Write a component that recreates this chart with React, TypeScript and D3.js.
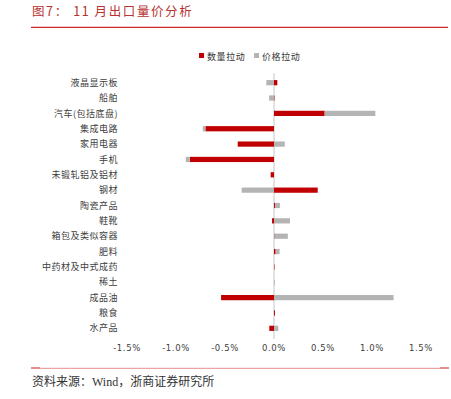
import * as d3 from 'd3';

const categories = ['液晶显示板', '船舶', '汽车(包括底盘)', '集成电路', '家用电器', '手机', '未锻轧铝及铝材', '钢材', '陶瓷产品', '鞋靴', '箱包及类似容器', '肥料', '中药材及中式成药', '稀土', '成品油', '粮食', '水产品'];
// percent contribution
const volumeValues = [0.034, 0.005, 0.517, -0.70, -0.37, -0.86, -0.034, 0.446, 0.01, -0.02, 0.005, 0.017, 0.005, 0, -0.54, 0.01, -0.048];
const priceValues = [-0.078, -0.05, 0.517, -0.027, 0.11, -0.04, 0, -0.33, 0.05, 0.163, 0.136, 0.04, 0, 0.008, 1.22, 0, 0.044];
const seriesNames = ['数量拉动', '价格拉动'];
const tickValues = [-1.5, -1.0, -0.5, 0, 0.5, 1.0, 1.5];

const W = 451, H = 399;
const colors = ['#C00000', '#B4B4B4'];
const cjk = '"Noto Sans CJK SC", sans-serif';

export default function App() {
  var rows = categories.map((c, i) => ({ name: c, v: volumeValues[i], p: priceValues[i] }));
  var stacked = d3.stack<any>().keys(['v', 'p']).offset(d3.stackOffsetDiverging)(rows);

  var x = d3.scaleLinear().domain([-1.5, 1.5]).range([127, 421]);
  var y = d3.scaleBand().domain(categories).range([75, 336]).paddingInner(0.66).paddingOuter(0.33);

  return (
    <svg width={W} height={H} style={{ position: 'absolute', left: 0, top: 0, background: '#fff' }}>
      {/* title */}
      <text x={32} y={16} fontFamily={cjk} fontSize={12.5} fill="#B8312F" letterSpacing={1.6}>图7： 11 月出口量价分析</text>
      <line x1={31} x2={448} y1={27.3} y2={27.3} stroke="#C8282A" strokeWidth={1.3} />

      {/* legend */}
      <rect x={199} y={53} width={5} height={5} fill={colors[0]} />
      <text x={207} y={59.5} fontFamily={cjk} fontSize={9} fill="#333" letterSpacing={0.6}>{seriesNames[0]}</text>
      <rect x={254} y={53} width={5} height={5} fill={colors[1]} />
      <text x={262} y={59.5} fontFamily={cjk} fontSize={9} fill="#333" letterSpacing={0.6}>{seriesNames[1]}</text>

      {/* zero line */}
      <line x1={x(0)} x2={x(0)} y1={73} y2={339} stroke="#D9D9D9" strokeWidth={1.5} />

      {stacked.map((s, si) => (
        <g key={si} fill={colors[si]}>
          {s.map((d, i) => {
            var x0 = x(Math.min(d[0], d[1]));
            var x1 = x(Math.max(d[0], d[1]));
            if (x1 - x0 < 0.01) return null;
            return <rect key={i} x={x0} y={y(categories[i])!} width={x1 - x0} height={y.bandwidth()} />;
          })}
        </g>
      ))}

      {/* category labels */}
      {categories.map((c) => (
        <text key={c} x={118} y={y(c)! + y.bandwidth() / 2} dy="0.35em" textAnchor="end" fontFamily={cjk} fontSize={9} fill="#404040" letterSpacing={0.5}>{c}</text>
      ))}

      {/* tick labels */}
      {tickValues.map((t) => (
        <text key={t} x={x(t)} y={351} textAnchor="middle" fontFamily="'DejaVu Sans', sans-serif" fontSize={8.5} fill="#404040" letterSpacing={0.6}>{d3.format('.1f')(t).replace('−', '-') + '%'}</text>
      ))}

      {/* bottom rule */}
      <line x1={31} x2={449} y1={368.3} y2={368.3} stroke="#E88C8C" strokeWidth={1} />
      <line x1={31} x2={40} y1={368} y2={368} stroke="#E88C8C" strokeWidth={2} />
      <line x1={440} x2={449} y1={368} y2={368} stroke="#E88C8C" strokeWidth={2} />

      <text x={32} y={386} fontFamily={cjk} fontSize={12} fill="#333">资料来源：<tspan fontFamily="'Liberation Serif', serif">Wind</tspan>，浙商证券研究所</text>
    </svg>
  );
}
